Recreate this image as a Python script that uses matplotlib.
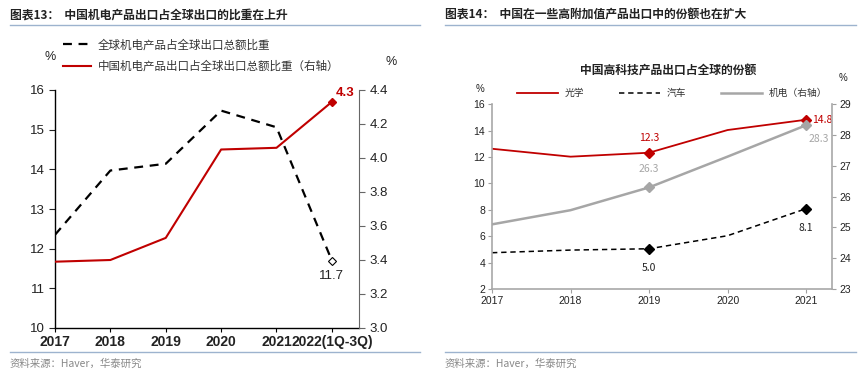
import numpy as np
import matplotlib.pyplot as plt
from matplotlib.lines import Line2D

plt.rcParams['font.family'] = ['Liberation Sans', 'Noto Sans CJK SC', 'DejaVu Sans']
CJK = ['Noto Sans CJK SC', 'DejaVu Sans']

# ---- 数据：图表13 ----
years_l = ['2017', '2018', '2019', '2020', '2021', '2022(1Q-3Q)']
global_share = [12.35, 13.97, 14.14, 15.48, 15.06, 11.7]   # 左轴
china_share = [3.39, 3.40, 3.53, 4.05, 4.06, 4.33]         # 右轴

# ---- 数据：图表14 ----
years_r = ['2017', '2018', '2019', '2020', '2021']
optics = [12.63, 12.03, 12.33, 14.05, 14.83]
autos = [4.75, 4.95, 5.05, 6.04, 8.09]
mech = [25.10, 25.56, 26.30, 27.30, 28.32]                 # 右轴

RED = '#C00000'
GRAY = '#A6A6A6'
BLUE_LINE = '#9DB3CE'

W, H = 865, 374
fig = plt.figure(figsize=(W / 100, H / 100), dpi=100)


def fx(px):
    return px / W


def fy(py):
    return 1 - py / H


# 标题与分隔线
fig.text(fx(10), fy(15), '图表13：  中国机电产品出口占全球出口的比重在上升', family=CJK,
         fontsize=8.5, fontweight='bold', va='center', color='#222222')
fig.text(fx(445), fy(15), '图表14：  中国在一些高附加值产品出口中的份额也在扩大', family=CJK,
         fontsize=8.5, fontweight='bold', va='center', color='#222222')
for x0, x1 in [(10, 420), (445, 856)]:
    fig.add_artist(Line2D([fx(x0), fx(x1)], [fy(25), fy(25)], color=BLUE_LINE, lw=1))
    fig.add_artist(Line2D([fx(x0), fx(x1)], [fy(352), fy(352)], color=BLUE_LINE, lw=1))
fig.text(fx(10), fy(364), '资料来源：Haver，华泰研究', family=CJK, fontsize=7.5,
         va='center', color='#888888')
fig.text(fx(445), fy(364), '资料来源：Haver，华泰研究', family=CJK, fontsize=7.5,
         va='center', color='#888888')

# ================= 左图 =================
ax1 = fig.add_axes([fx(55), fy(328), fx(359) - fx(55), (328 - 90) / H])
ax2 = ax1.twinx()
xl = np.arange(len(years_l))

l1, = ax1.plot(xl, global_share, color='black', lw=1.6, ls=(0, (4, 3)),
               marker='D', markevery=[5], markersize=4.5,
               markerfacecolor='white', markeredgecolor='black', markeredgewidth=0.8)
l2, = ax2.plot(xl, china_share, color=RED, lw=1.5,
               marker='D', markevery=[5], markersize=4, markerfacecolor=RED,
               markeredgecolor=RED)

ax1.set_xlim(0, 5.49)
ax1.set_ylim(10, 16)
ax2.set_ylim(3.0, 4.4)
ax1.set_yticks(np.arange(10, 17, 1))
ax2.set_yticks(np.arange(3.0, 4.41, 0.2))
ax2.set_yticklabels([f'{v:.1f}' for v in np.arange(3.0, 4.41, 0.2)])
ax1.set_xticks(xl)
ax1.set_xticklabels(years_l, fontsize=10, fontweight='bold', color='#222222')
ax1.tick_params(axis='y', labelsize=9.5, length=4, width=0.8, colors='#222222')
ax2.tick_params(axis='y', labelsize=9.5, length=4, width=0.8, colors='#222222')
ax2.tick_params(axis='y', color='#666666')
ax1.tick_params(axis='x', length=3, width=0.8, pad=2)
for s in ['top']:
    ax1.spines[s].set_visible(False)
    ax2.spines[s].set_visible(False)
ax1.spines['right'].set_visible(False)
ax2.spines['left'].set_visible(False)
ax2.spines['bottom'].set_visible(False)
ax2.spines['right'].set_color('#666666')
ax1.spines['left'].set_linewidth(1)
ax1.spines['bottom'].set_linewidth(1)

ax2.annotate(f'{china_share[-1]:.1f}', (xl[-1], china_share[-1]), xytext=(3, 2),
             textcoords='offset points', color=RED, fontsize=9.5, fontweight='bold',
             ha='left', va='bottom')
ax1.annotate(f'{global_share[-1]:.1f}', (xl[-1], global_share[-1]), xytext=(0, -7),
             textcoords='offset points', color='#222222', fontsize=9.5,
             ha='center', va='top')

leg1 = fig.legend([l1, l2], ['全球机电产品占全球出口总额比重', '中国机电产品出口占全球出口总额比重（右轴）'],
                  loc='upper left', bbox_to_anchor=(fx(53), fy(28)), frameon=False,
                  prop={'family': CJK, 'size': 8.3}, handlelength=2.4, handletextpad=0.6,
                  labelspacing=0.75, labelcolor='#333333')
for h in leg1.legend_handles:
    h.set_marker('')
fig.text(fx(50), fy(57), '%', fontsize=9, ha='center', va='center', color='#222222')
fig.text(fx(391), fy(62), '%', fontsize=9, ha='center', va='center', color='#222222')

# ================= 右图 =================
ax3 = fig.add_axes([fx(492), fy(289), fx(832) - fx(492), (289 - 104.3) / H])
ax4 = ax3.twinx()
xr = np.arange(len(years_r))

p1, = ax3.plot(xr, optics, color=RED, lw=1.3, marker='D', markevery=[2, 4],
               markersize=5, markerfacecolor=RED, markeredgecolor=RED)
p2, = ax3.plot(xr, autos, color='black', lw=1.1, ls=(0, (3.5, 2.5)), marker='D',
               markevery=[2, 4], markersize=5, markerfacecolor='black')
p3, = ax4.plot(xr, mech, color=GRAY, lw=1.8, marker='D', markevery=[2, 4],
               markersize=5, markerfacecolor=GRAY, markeredgecolor=GRAY)

ax3.set_xlim(0, 4.33)
ax3.set_ylim(2, 16)
ax4.set_ylim(23, 29)
ax3.set_yticks(np.arange(2, 17, 2))
ax4.set_yticks(np.arange(23, 30, 1))
ax3.set_xticks(xr)
ax3.set_xticklabels(years_r)
for a in (ax3, ax4):
    a.tick_params(axis='both', labelsize=7.5, length=3, width=0.8, color='#A0A0A0',
                  labelcolor='#222222', pad=2)
    a.spines['top'].set_visible(False)
    for s in ['left', 'right', 'bottom']:
        a.spines[s].set_color('#A8A8A8')
        a.spines[s].set_linewidth(1.2)
ax3.spines['right'].set_visible(False)
ax4.spines['left'].set_visible(False)
ax4.spines['bottom'].set_visible(False)

lab_font = {'family': CJK, 'fontsize': 7.5}
ax3.annotate(f'{optics[2]:.1f}', (xr[2], optics[2]), xytext=(0, 7), textcoords='offset points',
             color=RED, ha='center', va='bottom', **lab_font)
ax3.annotate(f'{optics[4]:.1f}', (xr[4], optics[4]), xytext=(4, 0), textcoords='offset points',
             color=RED, ha='left', va='center', **lab_font)
ax4.annotate(f'{mech[2]:.1f}', (xr[2], mech[2]), xytext=(0, 10), textcoords='offset points',
             color=GRAY, ha='center', va='bottom', **lab_font)
ax4.annotate(f'{mech[4]:.1f}', (xr[4], mech[4]), xytext=(2, -6), textcoords='offset points',
             color=GRAY, ha='left', va='top', **lab_font)
ax3.annotate(f'{autos[2]:.1f}', (xr[2], autos[2]), xytext=(0, -10), textcoords='offset points',
             color='#222222', ha='center', va='top', **lab_font)
ax3.annotate(f'{autos[4]:.1f}', (xr[4], autos[4]), xytext=(0, -10), textcoords='offset points',
             color='#222222', ha='center', va='top', **lab_font)

fig.text(fx(668), fy(71), '中国高科技产品出口占全球的份额', family=CJK, fontsize=8.5,
         fontweight='bold', ha='center', va='center', color='#222222')
leg2 = fig.legend([p1, p2, p3], ['光学', '汽车', '机电（右轴）'], loc='center',
                  bbox_to_anchor=(fx(672), fy(93)), ncol=3, frameon=False,
                  prop={'family': CJK, 'size': 7}, handlelength=4.2, handletextpad=0.7,
                  columnspacing=3.6, labelcolor='#333333')
for h in leg2.legend_handles:
    h.set_marker('')
fig.text(fx(480), fy(89), '%', fontsize=7, ha='center', va='center', color='#222222')
fig.text(fx(843), fy(78), '%', fontsize=7, ha='center', va='center', color='#222222')

fig.savefig('out.png', dpi=100)
